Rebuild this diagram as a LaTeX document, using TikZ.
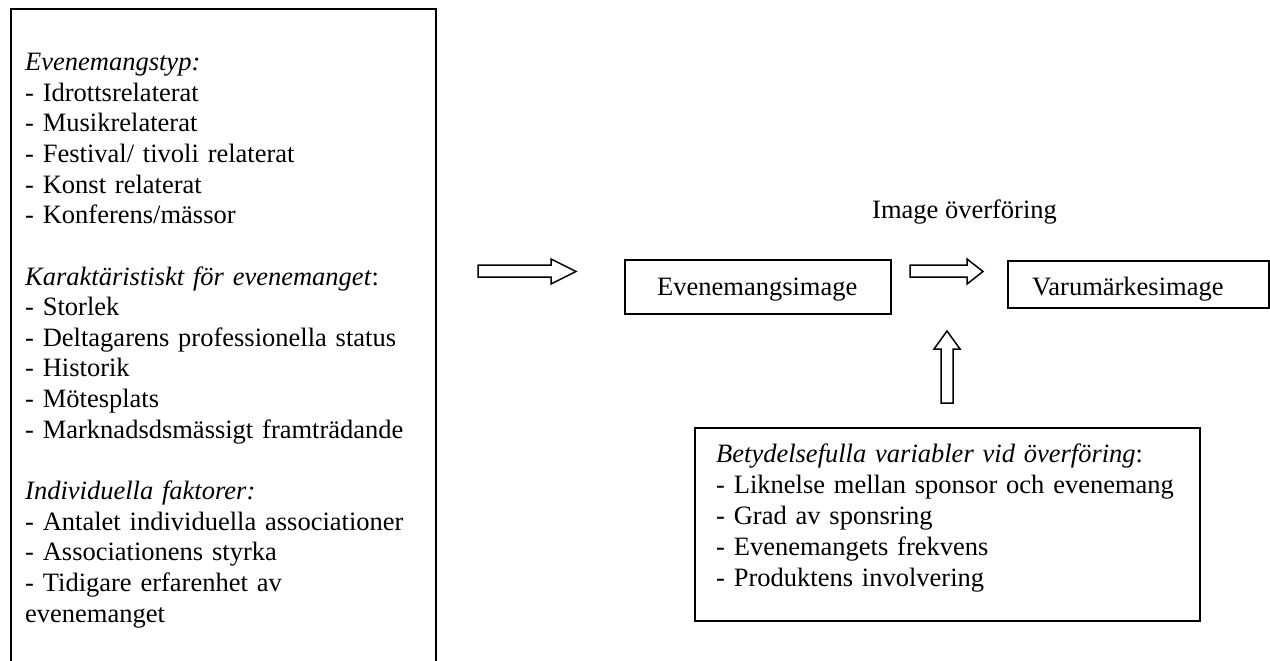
\documentclass[tikz,border=0pt]{standalone}
\usepackage{fontspec}
\setmainfont{Liberation Serif}
\begin{document}
\begin{tikzpicture}[x=1pt,y=-1pt,line join=miter]
\tikzset{
  txt/.style={font=\fontsize{26.5}{30.63}\selectfont, inner sep=0pt, align=left, text width=#1},
  stxt/.style={font=\fontsize{26.5}{31}\selectfont, inner sep=0pt},
  frame/.style={draw=black, line width=1.5pt, inner sep=0pt},
  blockarrow/.style={draw=black, line width=1.5pt, fill=white}
}
\useasboundingbox (0,0) rectangle (1270,661);
\clip (0,0) rectangle (1270,661);
% left open frame
\draw[line width=2.2pt] (11,670) -- (11,9) -- (436,9) -- (436,670);
\node[txt=405pt, anchor=base west] (factors) at (25,70.7) {%
\textit{Evenemangstyp:}\\
- Idrottsrelaterat\\
- Musikrelaterat\\
- Festival/ tivoli relaterat\\
- Konst relaterat\\
- Konferens/mässor\\[30.63pt]
\textit{Karaktäristiskt för evenemanget}:\\
- Storlek\\
- Deltagarens professionella status\\
- Historik\\
- Mötesplats\\
- Marknadsdsmässigt framträdande\\[30.63pt]
\textit{Individuella faktorer:}\\
- Antalet individuella associationer\\
- Associationens styrka\\
- Tidigare erfarenhet av\\
evenemanget};
% middle boxes
\node[frame, anchor=north west, minimum width=266pt, minimum height=54pt] (event) at (624,259) {};
\node[stxt, anchor=base west] (eventtext) at (657,295) {Evenemangsimage};
\node[frame, anchor=north west, minimum width=261pt, minimum height=47pt] (brand) at (1007,260) {};
\node[stxt, anchor=base west] (brandtext) at (1032,295) {Varumärkesimage};
\node[stxt, anchor=base west] (transfer) at (872,218) {Image överföring};
% bottom right box
\node[frame, anchor=north west, minimum width=505pt, minimum height=193pt] (vars) at (694,427) {};
\node[txt=470pt, font=\fontsize{26.5}{31}\selectfont, anchor=base west] (varstext) at (716,462) {%
\textit{Betydelsefulla variabler vid överföring}:\\
- Liknelse mellan sponsor och evenemang\\
- Grad av sponsring\\
- Evenemangets frekvens\\
- Produktens involvering};
% block arrows
\draw[blockarrow] (478,265) -- (551,265) -- (551,259) -- (576,271.5) -- (551,284) -- (551,277) -- (478,277) -- cycle;
\draw[blockarrow] (910,265) -- (967,265) -- (967,259) -- (983,271.5) -- (967,284) -- (967,277) -- (910,277) -- cycle;
\draw[blockarrow] (941,403) -- (941,349) -- (934,349) -- (947,331) -- (960,349) -- (953,349) -- (953,403) -- cycle;
\end{tikzpicture}
\end{document}
